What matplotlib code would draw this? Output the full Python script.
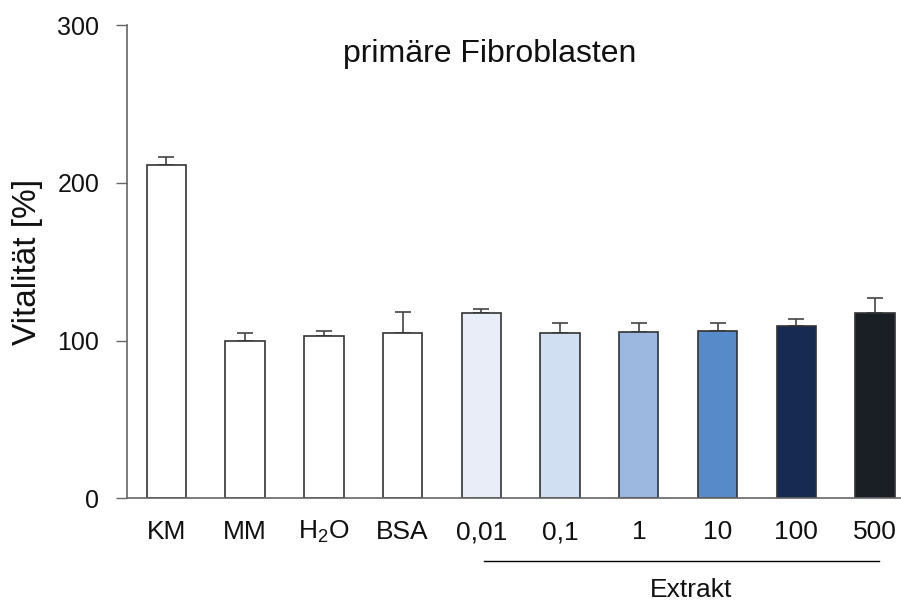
import matplotlib
matplotlib.use("Agg")
import matplotlib.pyplot as plt
import numpy as np

# ── Data ──────────────────────────────────────────────────────────────────────
labels = ["KM", "MM", "H$_2$O", "BSA", "0,01", "0,1", "1", "10", "100", "500"]
vitality = [211.5, 99.8, 103.0, 104.5, 117.5, 104.8, 105.5, 106.2, 109.5, 117.5]
err_up = [5.0, 5.0, 3.2, 13.5, 2.8, 6.6, 5.9, 5.2, 4.0, 9.8]
bar_colors = ["white", "white", "white", "white",
              "#e8edf8", "#d0dff1", "#9db8e0", "#568ac8", "#172a52", "#1a1e25"]

plt.rcParams["font.family"] = ["Liberation Sans", "DejaVu Sans"]
plt.rcParams["mathtext.fontset"] = "custom"
plt.rcParams["mathtext.rm"] = "Liberation Sans"
plt.rcParams["mathtext.it"] = "Liberation Sans"

fig = plt.figure(figsize=(9.01, 6.01), dpi=100)
ax = fig.add_axes([0.141, 0.171, 0.859, 0.787])

x = np.arange(len(labels))
ax.bar(x, vitality, width=0.5, color=bar_colors, edgecolor="#333333", linewidth=1.2, zorder=2)
ax.errorbar(x, vitality, yerr=[np.zeros(len(err_up)), err_up], fmt="none",
            ecolor="#444444", elinewidth=1.2, capsize=6, capthick=1.2, zorder=1)

ax.set_xlim(-0.5, 9.33)
ax.set_ylim(0, 300)
ax.set_yticks([0, 100, 200, 300])
ax.tick_params(axis="y", labelsize=18, length=8, width=1, color="#666666", pad=12,
               labelcolor="#111111")
ax.set_xticks(x)
ax.set_xticklabels(labels, fontsize=19, color="#111111")
ax.tick_params(axis="x", length=0, pad=29.5)
for t in ax.get_xticklabels():
    t.set_va("baseline")

for s in ("top", "right"):
    ax.spines[s].set_visible(False)
for s in ("left", "bottom"):
    ax.spines[s].set_color("#666666")
    ax.spines[s].set_linewidth(1.2)

ax.set_ylabel("Vitalität [%]", fontsize=24, labelpad=10, color="#111111")
ax.text(4.1, 277, "primäre Fibroblasten", fontsize=23, ha="center", va="baseline",
        color="#111111")

# bracket under the extract concentrations
ax.plot([4.03, 9.05], [-40, -40], color="black", lw=1, clip_on=False)
ax.text(6.66, -62.5, "Extrakt", fontsize=19, ha="center", va="baseline", color="#111111")

fig.savefig("out.png", dpi=100)
